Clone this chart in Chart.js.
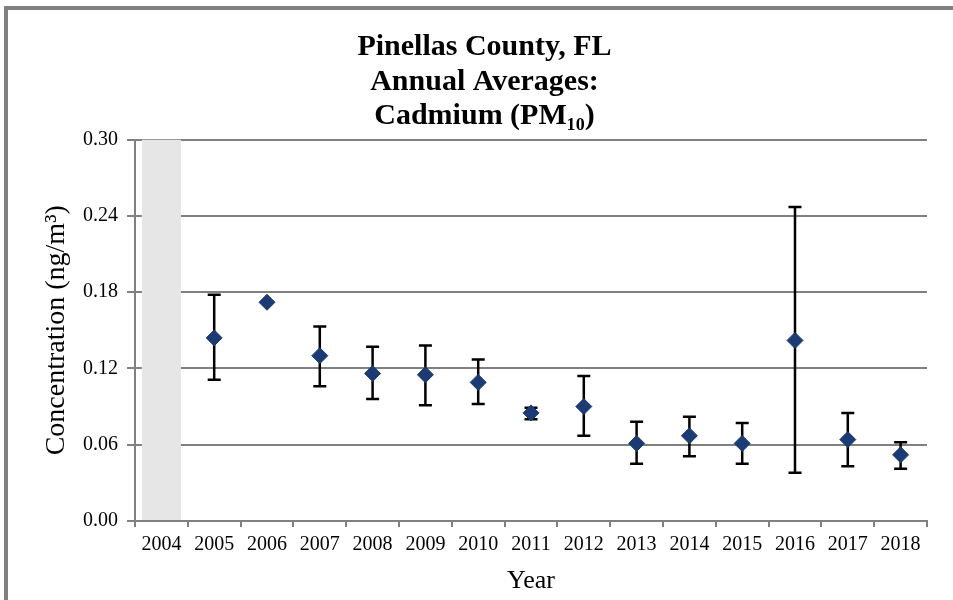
<!DOCTYPE html>
<html>
<head>
<meta charset="utf-8">
<title>Pinellas County Cadmium</title>
<script src="https://cdn.jsdelivr.net/npm/chart.js@4"></script>
<style>
  html, body { margin: 0; padding: 0; background: #fff; }
  #wrap { position: relative; width: 953px; height: 600px; overflow: hidden; }
  #frame { position: absolute; left: 4px; top: 6px; width: 1000px; height: 700px;
           border-top: 4px solid #808080; border-left: 4px solid #808080; pointer-events: none; }
</style>
</head>
<body>
<div id="wrap">
  <canvas id="chartCanvas" width="953" height="600"></canvas>
  <div id="frame"></div>
</div>
<script>
// values
const years = ["2004", "2005", "2006", "2007", "2008", "2009", "2010", "2011", "2012", "2013", "2014", "2015", "2016", "2017", "2018"];
const means = [null, 0.144, 0.172, 0.130, 0.116, 0.115, 0.109, 0.085, 0.090, 0.061, 0.067, 0.061, 0.142, 0.064, 0.052];
const upper = [null, 0.178, null, 0.153, 0.137, 0.138, 0.127, 0.089, 0.114, 0.078, 0.082, 0.077, 0.247, 0.085, 0.062];
const lower = [null, 0.111, null, 0.106, 0.096, 0.091, 0.092, 0.080, 0.067, 0.045, 0.051, 0.045, 0.038, 0.043, 0.041];
const noData = [0.30, null, null, null, null, null, null, null, null, null, null, null, null, null, null];
const yTicks = [0, 0.06, 0.12, 0.18, 0.24, 0.30];

const SERIF = "'Liberation Serif', 'Times New Roman', serif";
const GRID = "#808080";

// error bars drawn under the diamonds
const errorBars = {
  id: "errorBars",
  afterLayout(chart) {
    // title in the original sits a little right of the canvas centre
    if (chart.titleBlock) chart.titleBlock.left += 32;
  },
  beforeDatasetDraw(chart, args) {
    if (args.index !== 1) return;
    const ctx = chart.ctx;
    const y = chart.scales.y;
    const meta = chart.getDatasetMeta(1);
    ctx.save();
    ctx.strokeStyle = "#000";
    ctx.lineWidth = 2.5;
    meta.data.forEach((pt, i) => {
      if (upper[i] == null || lower[i] == null) return;
      const x = pt.x;
      const yTop = y.getPixelForValue(upper[i]);
      const yBot = y.getPixelForValue(lower[i]);
      ctx.beginPath();
      ctx.moveTo(x, yTop);
      ctx.lineTo(x, yBot);
      ctx.moveTo(x - 6.5, yTop);
      ctx.lineTo(x + 6.5, yTop);
      ctx.moveTo(x - 6.5, yBot);
      ctx.lineTo(x + 6.5, yBot);
      ctx.stroke();
    });
    ctx.restore();
  }
};

const ctx = document.getElementById("chartCanvas").getContext("2d");

new Chart(ctx, {
  type: "bar",
  data: {
    labels: years,
    datasets: [
      {
        label: "No data",
        data: noData,
        backgroundColor: "#e6e6e6",
        borderWidth: 0,
        barPercentage: 0.74,
        categoryPercentage: 1.0,
        order: 2
      },
      {
        type: "line",
        label: "Annual average",
        data: means,
        showLine: false,
        pointStyle: "rectRot",
        pointRadius: 8,
        pointBackgroundColor: "#1b3b72",
        pointBorderColor: "#1b3b72",
        pointBorderWidth: 1,
        order: 1
      }
    ]
  },
  options: {
    responsive: false,
    animation: false,
    events: [],
    layout: { padding: { left: 10, right: 26, top: 0, bottom: 0 } },
    plugins: {
      legend: { display: false },
      tooltip: { enabled: false },
      title: {
        display: true,
        text: ["Pinellas County, FL", "Annual Averages:", "Cadmium (PM\u2081\u2080)"],
        color: "#000",
        font: { family: SERIF, size: 30, weight: "bold", lineHeight: 1.15 },
        padding: { top: 30, bottom: 6 }
      }
    },
    scales: {
      x: {
        offset: true,
        grid: { drawOnChartArea: false, offset: true, tickLength: 6, color: GRID, lineWidth: 2 },
        border: { color: GRID, width: 2 },
        ticks: { color: "#000", font: { family: SERIF, size: 20 }, padding: 6, maxRotation: 0, autoSkip: false },
        title: { display: true, text: "Year", color: "#000", font: { family: SERIF, size: 26 }, padding: { top: 0, bottom: 3 } },
        afterFit: s => { s.height = 79; }
      },
      y: {
        min: 0,
        max: 0.30,
        afterBuildTicks: s => { s.ticks = yTicks.map(v => ({ value: v })); },
        grid: { color: GRID, lineWidth: 2, tickLength: 8 },
        border: { color: GRID, width: 2 },
        ticks: { color: "#000", font: { family: SERIF, size: 20 }, padding: 9, callback: v => v.toFixed(2) },
        title: { display: true, text: "Concentration (ng/m\u00b3)", color: "#000", font: { family: SERIF, size: 28 }, padding: { top: 30, bottom: 0 } },
        afterFit: s => { s.width = 125; }
      }
    }
  },
  plugins: [errorBars]
});
</script>
</body>
</html>
